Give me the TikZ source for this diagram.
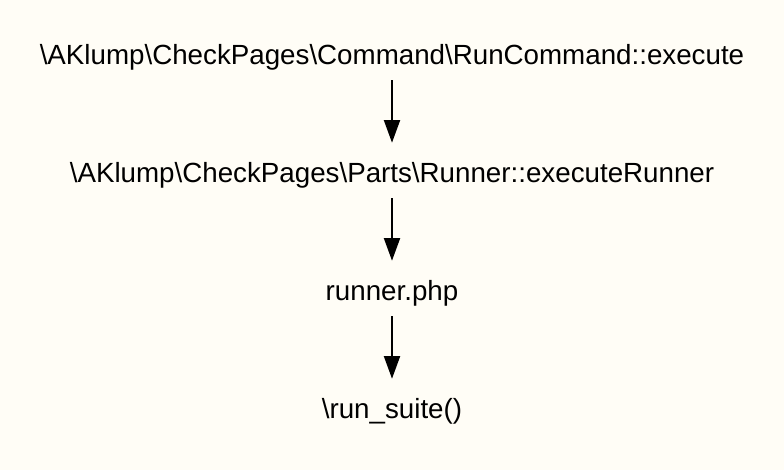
\documentclass[tikz,border=0pt]{standalone}
\usepackage{fontspec}
\setmainfont{Liberation Sans}
\usetikzlibrary{arrows.meta}
\definecolor{bg}{HTML}{FFFDF6}
\begin{document}
\begin{tikzpicture}[x=0.75pt,y=-0.75pt,
  lbl/.style={inner sep=0pt, minimum height=41.25pt, text height=18pt, text depth=0pt,
    font=\fontsize{20.8pt}{24pt}\selectfont},
  arr/.style={line width=1.5pt, -{Triangle[length=17pt,width=12pt]}}]
\fill[bg] (0,0) rectangle (784,470);
\node[lbl] (a) at (392,52.5) {\textbackslash AKlump\textbackslash CheckPages\textbackslash Command\textbackslash RunCommand::execute};
\node[lbl] (b) at (392,170.5) {\textbackslash AKlump\textbackslash CheckPages\textbackslash Parts\textbackslash Runner::executeRunner};
\node[lbl] (c) at (392,288.5) {runner.php};
\node[lbl] (d) at (392,406.5) {\textbackslash run\_suite()};
\draw[arr] (a) -- (b);
\draw[arr] (b) -- (c);
\draw[arr] (c) -- (d);
\end{tikzpicture}
\end{document}
